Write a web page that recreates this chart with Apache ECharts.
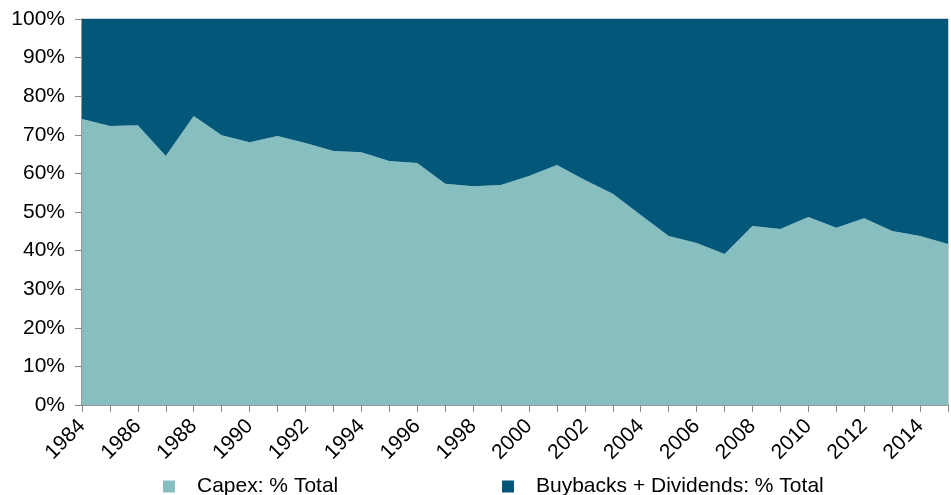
<!DOCTYPE html>
<html>
<head>
<meta charset="utf-8">
<script src="https://cdn.jsdelivr.net/npm/echarts@6/dist/echarts.min.js"></script>
<style>
html,body{margin:0;padding:0;background:#fff;}
#chart{width:951px;height:495px;}
</style>
</head>
<body>
<div id="chart"></div>
<script>
var years = [];
for (var y = 1984; y <= 2015; y++) years.push(String(y));

var capex = [74.1, 72.3, 72.5, 64.5, 74.9, 69.9, 68.1, 69.7, 67.9, 65.8,
             65.5, 63.2, 62.7, 57.3, 56.7, 57.0, 59.3, 62.2, 58.3, 54.7,
             49.2, 43.8, 42.0, 39.1, 46.4, 45.6, 48.7, 45.9, 48.4, 45.1,
             43.8, 41.7];
var buybacks = capex.map(function (v) { return +(100 - v).toFixed(1); });

var names = ['Capex: % Total', 'Buybacks + Dividends: % Total'];
var colors = ['#87BFC1', '#03587A'];

var myChart = echarts.init(document.getElementById('chart'));
var font = 'Liberation Sans, Arial, sans-serif';

var legendText = {
    fontSize: 21,
    color: '#000',
    fontFamily: font,
    padding: [0, 0, 0, 17]
};

var option = {
    animation: false,
    color: colors,
    grid: {
        left: 82,
        right: 3,
        top: 19,
        bottom: 90,
        show: true,
        borderColor: '#a0a0a0',
        borderWidth: 1
    },
    legend: [
        {
            data: [names[0]],
            left: 158,
            top: 471,
            icon: 'rect',
            itemWidth: 12,
            itemHeight: 12,
            textStyle: legendText
        },
        {
            data: [names[1]],
            left: 497,
            top: 471,
            icon: 'rect',
            itemWidth: 12,
            itemHeight: 12,
            textStyle: legendText
        }
    ],
    xAxis: {
        type: 'category',
        boundaryGap: false,
        data: years,
        axisLine: { lineStyle: { color: '#888', width: 1.5 } },
        axisTick: {
            show: true,
            interval: 0,
            length: 7,
            lineStyle: { color: '#888' }
        },
        axisLabel: {
            interval: 1,
            rotate: 45,
            margin: 18,
            fontSize: 21,
            color: '#000',
            fontFamily: font
        },
        splitLine: { show: false }
    },
    yAxis: {
        type: 'value',
        min: 0,
        max: 100,
        interval: 10,
        axisLine: { show: true, lineStyle: { color: '#888', width: 1.5 } },
        axisTick: { show: true, length: 7, lineStyle: { color: '#888' } },
        axisLabel: {
            formatter: '{value}%',
            fontSize: 21,
            color: '#000',
            margin: 17,
            fontFamily: font
        },
        splitLine: { show: false }
    },
    series: [
        {
            name: names[0],
            type: 'line',
            stack: 'total',
            symbol: 'none',
            lineStyle: { width: 0 },
            areaStyle: { opacity: 1, color: colors[0] },
            data: capex
        },
        {
            name: names[1],
            type: 'line',
            stack: 'total',
            symbol: 'none',
            lineStyle: { width: 0 },
            areaStyle: { opacity: 1, color: colors[1] },
            data: buybacks
        }
    ]
};

myChart.setOption(option);
</script>
</body>
</html>
